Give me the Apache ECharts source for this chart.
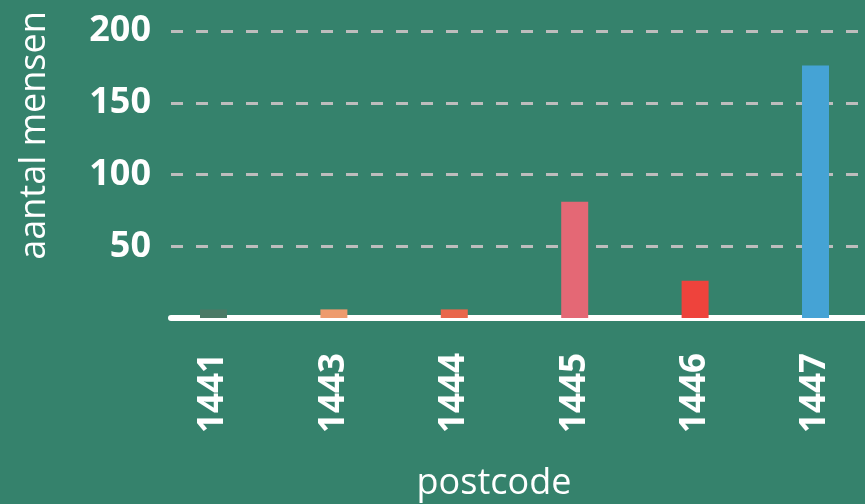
<!DOCTYPE html>
<html><head><meta charset="utf-8">
<script src="https://cdn.jsdelivr.net/npm/echarts@6/dist/echarts.min.js"></script>
<style>html,body{margin:0;padding:0;background:#35826c;}#c{width:865px;height:504px;}</style>
</head><body><div id="c"></div>
<script>
const categories = ['1441', '1443', '1444', '1445', '1446', '1447'];
const values = [6, 6, 6, 81, 26, 176];
const barColors = ['#4b7a66', '#ee9b6d', '#e9664b', '#e46875', '#ee433c', '#45a3d5'];
const yTicks = [0, 50, 100, 150, 200];

const FONT = '"Open Sans", "Noto Sans", sans-serif';
const chart = echarts.init(document.getElementById('c'), null, {renderer: 'canvas'});
const gridTop = 31, gridBottom = 186;
chart.setOption({
  backgroundColor: '#35826c',
  animation: false,
  grid: [
    {left: 171, right: 0, top: gridTop, bottom: gridBottom, outerBoundsMode: 'none', containLabel: false},
    {left: 153.3, width: 722.4, top: gridTop, bottom: gridBottom, outerBoundsMode: 'none', containLabel: false}
  ],
  xAxis: [
    {gridIndex: 0, type: 'category', data: [''], offset: 3,
     axisLine: {show: true, lineStyle: {color: '#ffffff', width: 6}},
     axisTick: {show: false}, axisLabel: {show: false},
     name: 'postcode', nameLocation: 'middle', nameGap: 145,
     nameTextStyle: {color: '#ffffff', fontSize: 36, fontFamily: FONT, padding: [0, 48, 0, 0]}},
    {gridIndex: 1, type: 'category', data: categories,
     axisLine: {show: false}, axisTick: {show: false},
     axisLabel: {rotate: 90, margin: 35, color: '#ffffff', fontSize: 35, fontWeight: 'bold', fontFamily: FONT}}
  ],
  yAxis: [
    {gridIndex: 0, type: 'value', min: yTicks[0], max: yTicks[yTicks.length - 1], interval: 50,
     axisLine: {show: false}, axisTick: {show: false},
     axisLabel: {margin: 20, color: '#ffffff', fontSize: 36, fontWeight: 'bold', fontFamily: FONT,
       formatter: v => (v === 0 ? '' : String(v))},
     splitLine: {show: true, lineStyle: {color: '#bdbdbd', width: 3, type: [12, 13]}},
     name: 'aantal mensen', nameLocation: 'middle', nameRotate: 90, nameGap: 118,
     nameTextStyle: {color: '#ffffff', fontSize: 36, fontFamily: FONT, padding: [0, 0, 0, 78]}},
    {gridIndex: 1, type: 'value', min: yTicks[0], max: yTicks[yTicks.length - 1], interval: 50, show: false}
  ],
  series: [{
    type: 'bar', xAxisIndex: 1, yAxisIndex: 1, barWidth: 27,
    data: values.map((v, i) => ({value: v, itemStyle: {color: barColors[i]}}))
  }]
});
</script></body></html>
